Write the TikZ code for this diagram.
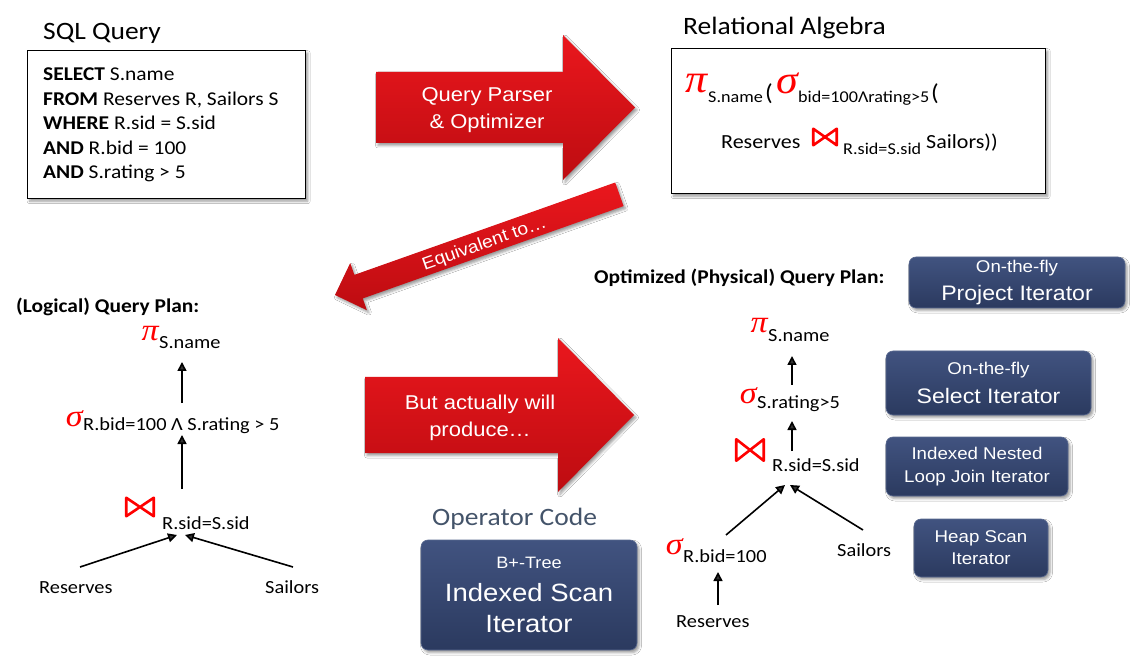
\documentclass[tikz,border=0pt]{standalone}
\usepackage{fontspec}
\setmainfont[FakeStretch=1.1]{Carlito}
\newfontfamily\arialf[FakeStretch=1.1]{Liberation Sans}
\newfontfamily\grkf[FakeStretch=1.1]{Liberation Serif}
\usetikzlibrary{arrows.meta,shadows.blur}
\newcommand\fsz[1]{\fontsize{#1}{#1}\selectfont}
\definecolor{redtop}{HTML}{EA171D}
\definecolor{redbot}{HTML}{BD0C11}
\definecolor{boxtop}{HTML}{415380}
\definecolor{boxbot}{HTML}{2B3A5F}
\definecolor{boxedge}{HTML}{5A6A90}
\definecolor{opcode}{HTML}{44546A}
\definecolor{symred}{HTML}{FF0000}
\tikzset{
  txt/.style={anchor=base west, inner sep=0pt},
  lbl/.style={txt, font=\fsz{18.5}},
  sub/.style={txt, font=\fsz{16.5}},
  big/.style={txt, font=\fsz{20}},
  paren/.style={txt, font=\fsz{23}},
  greek/.style={anchor=base east, inner sep=0pt, text=symred, font=\grkf\itshape\fsz{31}},
  greekbig/.style={anchor=base east, inner sep=0pt, text=symred, font=\grkf\itshape\fsz{40}},
  flow/.style={line width=1.6pt, -{Triangle[length=9pt,width=9pt]}},
  softshadow/.style={blur shadow={shadow xshift=2pt, shadow yshift=-2.5pt, shadow blur radius=2.5pt, shadow opacity=40}},
  redarrow/.style={top color=redtop, bottom color=redbot, draw=none, softshadow},
  arrowtext/.style={text=white, font=\arialf\fontsize{20}{27}\selectfont, align=center, inner sep=0pt},
  darkbox/.style={rounded corners=7pt, top color=boxtop, bottom color=boxbot, draw=boxedge, line width=0.6pt,
    text=white, align=center, inner sep=0pt, softshadow},
  plainbox/.style={draw=black, line width=1.4pt, fill=white, inner sep=0pt, softshadow},
  title/.style={txt, font=\fsz{25}},
  heading/.style={txt, font=\bfseries\fsz{19.5}},
  joinsym/.pic={\draw[symred, line width=2.6pt, line join=round] (-0.5,-0.5) -- (0.5,0.5) -- (0.5,-0.5) -- (-0.5,0.5) -- cycle;},
}
\begin{document}
\begin{tikzpicture}[x=1pt, y=-1pt]
\path[fill=white] (0,0) rectangle (1133,668);
\useasboundingbox (0,0) rectangle (1133,668);

% ---------- SQL query ----------
\node[title] (sqltitle) at (43,39.5) {SQL Query};
\node[plainbox, anchor=north west, minimum width=278pt, minimum height=148pt] (sqlbox) at (27,50) {};
\node[anchor=north west, inner sep=0pt, align=left, font=\fontsize{19.5}{24.5}\selectfont] (sqltext) at (43,68)
  {\textbf{SELECT} S.name\\\textbf{FROM} Reserves R, Sailors S\\\textbf{WHERE} R.sid = S.sid\\\textbf{AND} R.bid = 100\\\textbf{AND} S.rating > 5};

% ---------- Relational algebra ----------
\node[title] (ratitle) at (683,35) {Relational Algebra};
\node[plainbox, anchor=north west, minimum width=374pt, minimum height=145pt] (rabox) at (671,48) {};
\node[greekbig] (rapi) at (708,93) {π};
\node[sub] (rapisub) at (708,103) {S.name};
\node[paren] (rap1) at (765,101) {(};
\node[greekbig] (rasig) at (798,94) {σ};
\node[sub] (rasigsub) at (798,103) {bid=100Λrating>5};
\node[paren] (rap2) at (931,101) {(};
\node[big] (rares) at (721,149) {Reserves};
\pic[xscale=23.5, yscale=16.5] (rajoin) at (825,137) {joinsym};
\node[sub] (rajoinsub) at (843,155) {R.sid=S.sid};
\node[big] (rasail) at (926,149) {Sailors))};

% ---------- red arrows ----------
\path[redarrow] (376,72) -- (563,72) -- (563,35) -- (635,107.5) -- (563,180) -- (563,143) -- (376,143) -- cycle;
\node[arrowtext] (parsertext) at (487,110.5) {Query Parser\\\& Optimizer};

\begin{scope}[shift={(335,295)}, rotate=19.5]
  \path[redarrow] (0,0) -- (25,-25) -- (25,-12.5) -- (301.7,-12.5) -- (301.7,12.5) -- (25,12.5) -- (25,25) -- cycle;
  \node[arrowtext, font=\arialf\fsz{17.5}, transform shape] (eqtext) at (158,2) {Equivalent to…};
\end{scope}

\path[redarrow] (365,377) -- (558,377) -- (558,338) -- (634,415) -- (558,492) -- (558,453) -- (365,453) -- cycle;
\node[arrowtext] (producetext) at (480,417.5) {But actually will\\produce…};

% ---------- logical plan ----------
\node[heading] (logtitle) at (16,313) {(Logical) Query Plan:};
\node[greek] (lpi) at (159,341) {π};
\node[lbl] (lpisub) at (159,349) {S.name};
\node[greek] (lsig) at (83,426) {σ};
\node[lbl] (lsigsub) at (83,430) {R.bid=100 Λ S.rating > 5};
\pic[xscale=27.5, yscale=18.5] (ljoin) at (140,507) {joinsym};
\node[lbl] (ljoinsub) at (162,529) {R.sid=S.sid};
\node[lbl] (lres) at (39,593) {Reserves};
\node[lbl] (lsail) at (265,593) {Sailors};

\coordinate (lpi-in) at (182,362);
\coordinate (lsig-out) at (182,403);
\coordinate (lsig-in) at (182,435);
\coordinate (ljoin-out) at (182,489);
\coordinate (ljoin-inl) at (177,535);
\coordinate (ljoin-inr) at (185,535);
\coordinate (lres-out) at (80,567);
\coordinate (lsail-out) at (293,567);
\draw[flow] (lsig-out) -- (lpi-in);
\draw[flow] (ljoin-out) -- (lsig-in);
\draw[flow] (lres-out) -- (ljoin-inl);
\draw[flow] (lsail-out) -- (ljoin-inr);

% ---------- operator code ----------
\node[txt, font=\fsz{25}, text=opcode] (opcode) at (432,525) {Operator Code};
\node[darkbox, minimum width=216pt, minimum height=110pt, font=\arialf\fontsize{25}{31}\selectfont] (scanbox) at (529,595)
  {{\fontsize{16.5}{20}\selectfont B+-Tree}\\[2pt]Indexed Scan\\Iterator};

% ---------- physical plan ----------
\node[heading] (phystitle) at (594,284) {Optimized (Physical) Query Plan:};
\node[darkbox, minimum width=216pt, minimum height=51pt, font=\arialf\fontsize{21}{27.5}\selectfont] (projbox) at (1017,282.5)
  {{\fontsize{17}{20}\selectfont On-the-fly}\\Project Iterator};
\node[darkbox, minimum width=205pt, minimum height=64pt, font=\arialf\fontsize{21}{28.5}\selectfont] (selbox) at (988.5,383)
  {{\fontsize{17}{20}\selectfont On-the-fly}\\Select Iterator};
\node[darkbox, minimum width=182pt, minimum height=59pt, font=\arialf\fontsize{17}{23}\selectfont] (joinbox) at (977,466.5)
  {Indexed Nested\\Loop Join Iterator};
\node[darkbox, minimum width=134pt, minimum height=58pt, font=\arialf\fontsize{17}{22}\selectfont] (heapbox) at (981,548)
  {Heap Scan\\Iterator};

\node[greek] (ppi) at (768,333) {π};
\node[lbl] (ppisub) at (768,342) {S.name};
\node[greek] (psig) at (757,403) {σ};
\node[lbl] (psigsub) at (757,409) {S.rating>5};
\pic[xscale=27.5, yscale=21.5] (pjoin) at (750,450) {joinsym};
\node[lbl] (pjoinsub) at (772,471) {R.sid=S.sid};
\node[greek] (psig2) at (683,554) {σ};
\node[lbl] (psig2sub) at (683,562) {R.bid=100};
\node[lbl] (psail) at (837,556) {Sailors};
\node[lbl] (pres) at (676,627) {Reserves};

\coordinate (ppi-in) at (792,356);
\coordinate (psig-out) at (792,385);
\coordinate (psig-in) at (792,421);
\coordinate (pjoin-out) at (792,451);
\coordinate (pjoin-inl) at (785,485);
\coordinate (pjoin-inr) at (790,485);
\coordinate (psig2-out) at (726,535);
\coordinate (psig2-in) at (718,572);
\coordinate (psail-out) at (863,530);
\coordinate (pres-out) at (718,605);
\draw[flow] (psig-out) -- (ppi-in);
\draw[flow] (pjoin-out) -- (psig-in);
\draw[flow] (psig2-out) -- (pjoin-inl);
\draw[flow] (psail-out) -- (pjoin-inr);
\draw[flow] (pres-out) -- (psig2-in);
\end{tikzpicture}
\end{document}
